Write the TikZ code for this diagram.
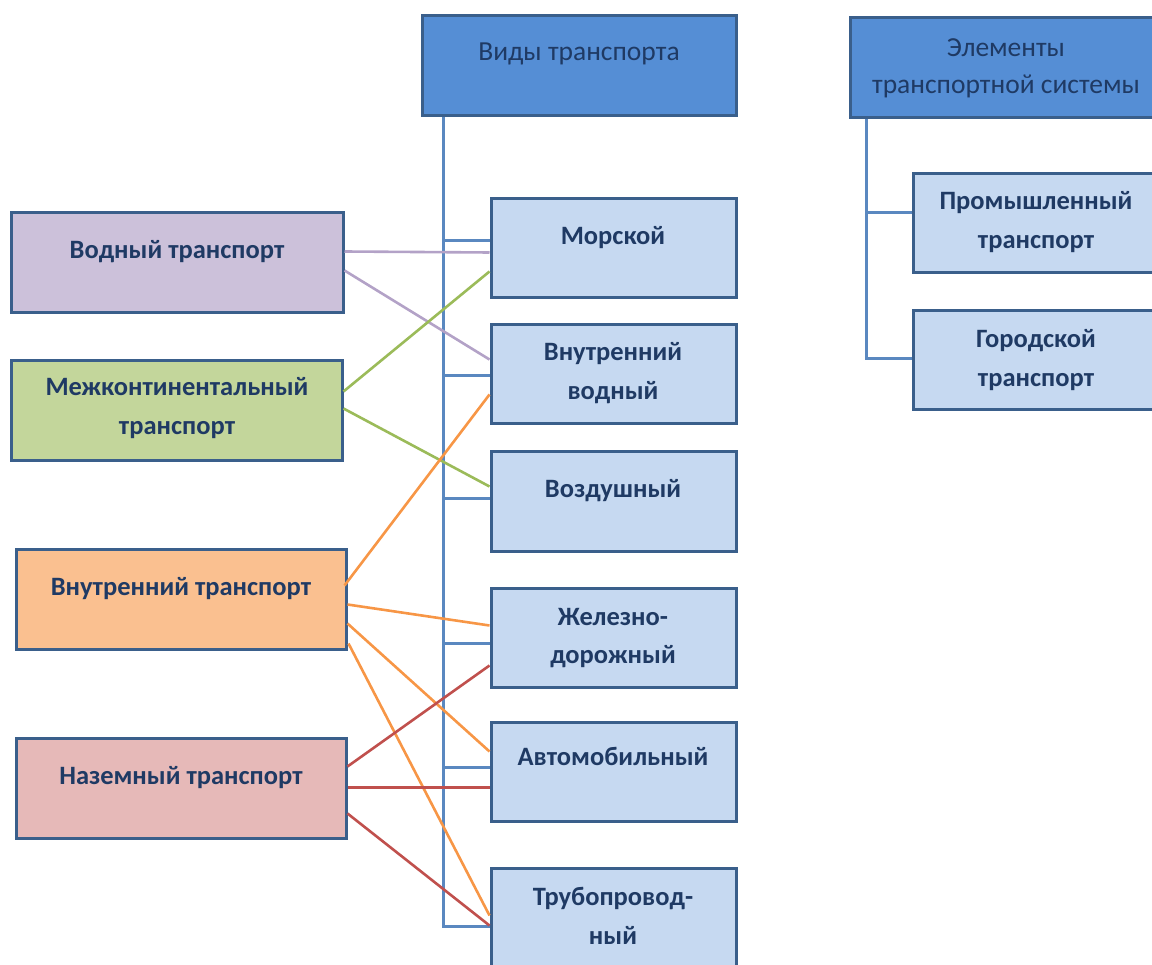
\documentclass[tikz,border=0pt]{standalone}
\usepackage{fontspec}
\setmainfont{Carlito}
\usetikzlibrary{calc}
\definecolor{hdrfill}{HTML}{558ED5}
\definecolor{boxline}{HTML}{3A5F8B}
\definecolor{childfill}{HTML}{C6D9F1}
\definecolor{purplefill}{HTML}{CCC1DA}
\definecolor{greenfill}{HTML}{C3D69B}
\definecolor{orangefill}{HTML}{FAC090}
\definecolor{pinkfill}{HTML}{E6B9B8}
\definecolor{txt}{HTML}{1F3A64}
\definecolor{treeline}{HTML}{5A88C0}
\definecolor{cpurple}{HTML}{B3A2C7}
\definecolor{cgreen}{HTML}{9BBB59}
\definecolor{corange}{HTML}{F79646}
\definecolor{cred}{HTML}{C0504D}
\tikzset{
  box/.style={draw=boxline, line width=3pt, rectangle, inner sep=0pt},
  hdrbox/.style={box, fill=hdrfill, minimum height=100pt},
  childbox/.style={box, fill=childfill, minimum width=245pt, minimum height=99pt},
  leftbox/.style={box, minimum width=332pt, minimum height=100pt},
  lbl/.style={text=txt, font=\fontsize{26.5}{38.5}\selectfont\bfseries, align=center, inner sep=0pt},
  hlbl/.style={text=txt, font=\fontsize{27.5}{37}\selectfont, align=center, inner sep=0pt},
  tree/.style={draw=treeline, line width=2.2pt},
  conn/.style={line width=2.6pt}
}
\begin{document}
\begin{tikzpicture}[x=1pt,y=-1pt]
\useasboundingbox (0,0) rectangle (1152,965);
\clip (0,0) rectangle (1152,965);
% header boxes
\node[hdrbox, minimum width=314pt] (vid) at (579,66) {};
\node[hdrbox, minimum width=310pt] (elem) at (1005,68) {};
% child boxes
\node[childbox] (morsk) at (613.5,248.5) {};
\node[childbox] (vnv) at (613.5,374.5) {};
\node[childbox] (vozd) at (613.5,501.5) {};
\node[childbox] (zhel) at (613.5,637.5) {};
\node[childbox] (avto) at (613.5,771.5) {};
\node[childbox] (trub) at (613.5,917.5) {};
\node[childbox, minimum width=247pt] (prom) at (1036.5,223.5) {};
\node[childbox, minimum width=247pt] (gor) at (1036.5,360.5) {};
% left boxes
\node[leftbox, fill=purplefill] (vod) at (177,263) {};
\node[leftbox, fill=greenfill, minimum width=331pt] (mezh) at (176.5,411) {};
\node[leftbox, fill=orangefill, minimum width=330pt] (vnutr) at (181,599) {};
\node[leftbox, fill=pinkfill, minimum width=330pt] (nazem) at (181,788) {};
% labels
\node[hlbl, anchor=mid] (vidt) at (579,58) {Виды транспорта};
\node[hlbl] (elemt) at (1006,68) {Элементы\\транспортной системы};
\node[lbl, anchor=mid] (morskt) at (613,242) {Морской};
\node[lbl] (vnvt) at (613,373) {Внутренний\\водный};
\node[lbl, anchor=mid] (vozdt) at (613,495) {Воздушный};
\node[lbl] (zhelt) at (613,638) {Железно-\\дорожный};
\node[lbl, anchor=mid] (avtot) at (613,763) {Автомобильный};
\node[lbl] (trubt) at (613,916) {Трубопровод-\\ный};
\node[lbl] (promt) at (1036,222) {Промышленный\\транспорт};
\node[lbl] (gort) at (1036,360) {Городской\\транспорт};
\node[lbl, anchor=mid] (vodt) at (177,256) {Водный транспорт};
\node[lbl] (mezht) at (177,408) {Межконтинентальный\\транспорт};
\node[lbl, anchor=mid] (vnutrt) at (181,593) {Внутренний транспорт};
\node[lbl, anchor=mid] (nazemt) at (181,782) {Наземный транспорт};
% tree (left)
\coordinate (t0) at ($(vid.south west)+(23,0)$);
\coordinate (s1) at ($(morsk.north west)+(0,43)$);
\coordinate (s2) at ($(vnv.north west)+(0,52)$);
\coordinate (s3) at ($(vozd.north west)+(0,48)$);
\coordinate (s4) at ($(zhel.north west)+(0,57)$);
\coordinate (s5) at ($(avto.north west)+(0,47)$);
\coordinate (s6) at ($(trub.north west)+(0,60)$);
\draw[tree] (t0) -- (t0 |- s6) -- (s6);
\foreach \s in {s1,s2,s3,s4,s5} \draw[tree] (t0 |- \s) -- (\s);
% tree (right)
\coordinate (r0) at ($(elem.south west)+(18,0)$);
\coordinate (r1) at ($(prom.north west)+(0,40)$);
\coordinate (r2) at ($(gor.north west)+(0,49)$);
\draw[tree] (r0) -- (r0 |- r2) -- (r2);
\draw[tree] (r0 |- r1) -- (r1);
% connectors
\draw[conn, cpurple] ($(vod.north east)+(0,40)$) -- ($(morsk.north west)+(0,55)$);
\draw[conn, cpurple] ($(vod.north east)+(0,59)$) -- ($(vnv.north west)+(0,36)$);
\draw[conn, cgreen] ($(mezh.north east)+(0,32)$) -- ($(morsk.north west)+(0,74)$);
\draw[conn, cgreen] ($(mezh.north east)+(0,49)$) -- ($(vozd.north west)+(0,36)$);
\draw[conn, corange] ($(vnutr.north east)+(-3,38)$) -- ($(vnv.north west)+(0,71)$);
\draw[conn, corange] ($(vnutr.north east)+(0,57)$) -- ($(zhel.north west)+(0,39)$);
\draw[conn, corange] ($(vnutr.north east)+(0,76)$) -- ($(avto.north west)+(0,31)$);
\draw[conn, corange] ($(vnutr.north east)+(1,96)$) -- ($(trub.north west)+(0,49)$);
\draw[conn, cred] ($(nazem.north east)+(0,30)$) -- ($(zhel.north west)+(0,79)$);
\draw[conn, cred] ($(nazem.north east)+(0,51)$) -- ($(avto.north west)+(0,67)$);
\draw[conn, cred] ($(nazem.north east)+(0,77)$) -- ($(trub.north west)+(0,59)$);
\end{tikzpicture}
\end{document}
